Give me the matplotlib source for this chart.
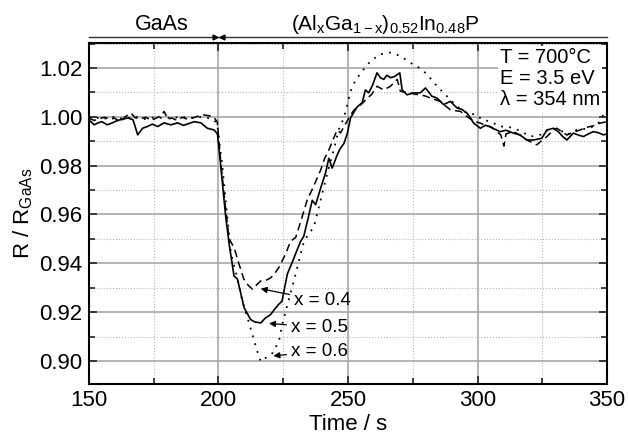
#!/usr/bin/env python3
import numpy as np
import matplotlib.pyplot as plt
from matplotlib.ticker import MultipleLocator
from matplotlib.transforms import blended_transform_factory

plt.rcParams.update({
    'font.family': ['Liberation Sans', 'DejaVu Sans'],
    'mathtext.fontset': 'custom',
    'mathtext.rm': 'Liberation Sans',
    'mathtext.it': 'Liberation Sans:italic',
    'font.size': 16,
})

# --- data (time in s, normalised reflectance) ---
t_x05 = [150, 152, 153.5, 155, 157, 159, 161, 163, 165, 167, 168.8, 170.7, 172.5, 174.5,
         176.5, 179, 181.6, 184.2, 186.5, 188.5, 190.6, 193.2, 195.7, 198.3, 199.6, 200.9,
         202.8, 204.1, 206, 207.3, 209.9, 212.4, 214, 216.3, 218, 220.1, 221.5, 223.3, 224.5,
         226.6, 228.3, 229.8, 231.7, 232.9, 234.5, 236.2, 237.5, 239.5, 241.3, 242.6, 243.9,
         245.8, 247, 248.4, 249.7, 251, 253.5, 255.5, 256.7, 258, 259.5, 261.2, 262.5, 263.8,
         265, 266.4, 268, 270, 270.9, 272.8, 275.4, 277.9, 279.9, 282.4, 284.3, 286.9, 289.5,
         292.1, 294, 295.9, 297, 298.5, 301.1, 303, 304.9, 306.5, 308.8, 311, 313.9, 316.5,
         319, 321.6, 324.8, 326.8, 329.3, 331.2, 332.8, 334.5, 337, 339, 340.9, 342.8, 344.7,
         346.6, 348.6, 350]
r_x05 = [0.9988, 0.9967, 0.9975, 0.9980, 0.9967, 0.9975, 0.9985, 0.9990, 0.9995, 0.9988,
         0.9926, 0.9953, 0.9960, 0.9970, 0.9960, 0.9975, 0.9967, 0.9975, 0.9965, 0.9972,
         0.9980, 0.9975, 0.9953, 0.9946, 0.9930, 0.9795, 0.9589, 0.9480, 0.9348, 0.9336,
         0.9218, 0.9170, 0.9160, 0.9156, 0.9175, 0.9190, 0.9210, 0.9233, 0.9245, 0.9357,
         0.9400, 0.9440, 0.9490, 0.9510, 0.9580, 0.9658, 0.9640, 0.9710, 0.9769, 0.9830,
         0.9790, 0.9843, 0.9870, 0.9890, 0.9930, 0.9996, 1.0040, 1.0058, 1.0110, 1.0098,
         1.0130, 1.0180, 1.0160, 1.0153, 1.0170, 1.0160, 1.0165, 1.0180, 1.0110, 1.0090,
         1.0098, 1.0098, 1.0118, 1.0084, 1.0077, 1.0050, 1.0063, 1.0036, 1.0030, 1.0015,
         1.0000, 0.9974, 0.9953, 0.9965, 0.9960, 0.9950, 0.9939, 0.9945, 0.9933, 0.9925,
         0.9905, 0.9905, 0.9912, 0.9946, 0.9953, 0.9939, 0.9920, 0.9905, 0.9933, 0.9925,
         0.9919, 0.9930, 0.9939, 0.9935, 0.9926, 0.9930]

t_x04 = [150, 152, 154, 156, 158, 160, 162, 164, 166.2, 168, 170, 172, 174, 176, 178, 179,
         180.5, 182, 184, 186, 188, 190, 192, 194, 196, 198, 199.5, 201, 202.8, 204.1, 206,
         207.9, 209.8, 211.5, 213.1, 215, 216.3, 218.2, 220.1, 221.8, 223.3, 225.9, 227.8,
         229.8, 232, 234.2, 236.5, 239.4, 241, 242.6, 244, 245.8, 247.1, 249, 251, 252.5,
         254.2, 256, 257.4, 259, 261.2, 263.8, 266.4, 269, 270.2, 272, 274.1, 276, 277.9,
         279.8, 281.8, 283.7, 285.6, 287.5, 289.5, 291.5, 293.4, 295.9, 297.5, 299.1, 301.1,
         303, 305, 307, 309, 310.2, 311, 313.9, 316.5, 319, 321, 322.9, 325, 326.8, 328.8,
         330.6, 332.5, 334.5, 336.5, 339.6, 341.5, 343.4, 345.5, 347.3, 350]
r_x04 = [0.9995, 0.9985, 0.9992, 0.9998, 0.9990, 0.9994, 0.9978, 1.0000, 1.0015, 0.9995,
         0.9992, 0.9998, 0.9985, 0.9995, 1.0005, 1.0022, 0.9990, 0.9995, 0.9985, 0.9998,
         0.9990, 0.9995, 1.0002, 1.0008, 1.0005, 1.0000, 0.9980, 0.9800, 0.9620, 0.9500,
         0.9465, 0.9398, 0.9335, 0.9310, 0.9294, 0.9315, 0.9328, 0.9330, 0.9340, 0.9360,
         0.9383, 0.9438, 0.9490, 0.9506, 0.9580, 0.9658, 0.9710, 0.9781, 0.9830, 0.9864,
         0.9900, 0.9946, 0.9934, 0.9970, 1.0008, 1.0030, 1.0042, 1.0060, 1.0077, 1.0090,
         1.0125, 1.0110, 1.0125, 1.0153, 1.0105, 1.0100, 1.0098, 1.0092, 1.0090, 1.0085,
         1.0077, 1.0070, 1.0063, 1.0045, 1.0029, 1.0025, 1.0022, 1.0001, 0.9990, 0.9980,
         0.9974, 0.9965, 0.9958, 0.9945, 0.9925, 0.9880, 0.9930, 0.9939, 0.9925, 0.9905,
         0.9895, 0.9885, 0.9905, 0.9919, 0.9940, 0.9953, 0.9940, 0.9925, 0.9935, 0.9946,
         0.9955, 0.9960, 0.9965, 0.9974, 0.9980]

t_x06 = [150, 152, 154, 156, 158, 160, 162, 164, 166, 168, 170, 172, 174, 176, 178, 180,
         182, 184, 186, 188, 190, 192, 194, 196, 198, 199.5, 201.5, 203.4, 204.7, 206, 207.3,
         209.2, 211.2, 213.1, 215, 216.3, 218.9, 220.8, 223.3, 224.6, 226.6, 229.1, 231.7,
         233, 234.8, 236.8, 239.4, 242, 244.5, 246.5, 248.4, 250, 251, 252.9, 255.5, 258.7,
         262.5, 266.4, 270.2, 274.1, 278.6, 281.1, 284.4, 288.2, 292.1, 295.9, 299.8, 301.7,
         304.9, 308.8, 311.5, 313.9, 317, 320.3, 324.2, 328.1, 331.9, 334.5, 338.3, 343.4,
         347.3, 349.2, 350]
r_x06 = [0.9995, 0.9990, 0.9998, 0.9992, 0.9998, 1.0000, 0.9992, 0.9998, 0.9995, 1.0000,
         0.9995, 0.9990, 0.9995, 1.0000, 0.9995, 0.9998, 0.9992, 0.9998, 0.9995, 1.0002,
         0.9995, 0.9998, 1.0000, 0.9995, 0.9990, 0.9970, 0.9795, 0.9590, 0.9450, 0.9390,
         0.9340, 0.9245, 0.9177, 0.9108, 0.9039, 0.8998, 0.9018, 0.9032, 0.9080, 0.9149,
         0.9230, 0.9328, 0.9438, 0.9490, 0.9520, 0.9548, 0.9658, 0.9768, 0.9864, 0.9950,
         0.9995, 1.0060, 1.0105, 1.0150, 1.0187, 1.0228, 1.0256, 1.0263, 1.0249, 1.0221,
         1.0194, 1.0166, 1.0125, 1.0084, 1.0042, 1.0015, 1.0008, 0.9988, 0.9981, 0.9960,
         0.9960, 0.9953, 0.9940, 0.9919, 0.9926, 0.9953, 0.9946, 0.9926, 0.9946, 0.9953,
         0.9980, 1.0022, 1.0010]

x_labels = ['x = 0.4', 'x = 0.5', 'x = 0.6']
label_xy = [(229.0, 0.9246), (227.8, 0.9138), (227.8, 0.9040)]
arrow_tip = [(216.3, 0.9296), (219.5, 0.9154), (221.2, 0.9021)]

fig = plt.figure(figsize=(6.28, 4.38), dpi=100)
ax = fig.add_axes([0.1417, 0.1233, 0.8249, 0.7785])

ax.plot(t_x05, r_x05, color='black', linestyle='-', linewidth=1.2, zorder=3)
ax.plot(t_x04, r_x04, color='black', linestyle=(0, (5, 3)), linewidth=1.1, zorder=3)
ax.plot(t_x06, r_x06, color='black', linestyle=(0, (1, 3.5)), linewidth=1.3, zorder=3)

for lab, (lx, ly), (tx, ty) in zip(x_labels, label_xy, arrow_tip):
    ax.annotate(lab, xy=(tx, ty), xytext=(lx, ly), fontsize=13.5, va='center', ha='left',
                arrowprops=dict(arrowstyle='-|>', color='black', lw=0.9,
                                mutation_scale=9, shrinkA=1, shrinkB=0))

ax.text(308.5, 1.0280, 'T = 700°C\nE = 3.5 eV\nλ = 354 nm', fontsize=14.5, va='top',
        ha='left', linespacing=1.13, zorder=5,
        bbox=dict(facecolor='white', edgecolor='none', pad=1.5))

ax.set_xlim(150, 350)
ax.set_ylim(0.8906, 1.0302)
ax.xaxis.set_major_locator(MultipleLocator(50))
ax.xaxis.set_minor_locator(MultipleLocator(25))
ax.yaxis.set_major_locator(MultipleLocator(0.02))
ax.yaxis.set_minor_locator(MultipleLocator(0.01))
ax.yaxis.set_major_formatter(plt.FormatStrFormatter('%.2f'))
ax.grid(True, which='major', color='#a8a8a8', linewidth=1.2, linestyle='-')
ax.grid(True, which='minor', color='#b8b8b8', linewidth=0.8, linestyle=':')
ax.set_axisbelow(True)
ax.tick_params(which='both', direction='in', top=True, right=True, width=1.2, color='#222222')
ax.tick_params(which='major', length=6, pad=4.5)
ax.tick_params(which='minor', length=4)
for sp in ax.spines.values():
    sp.set_linewidth(1.5)

ax.set_xlabel('Time / s', labelpad=2)
ax.set_ylabel(r'R / R$_{\mathrm{GaAs}}$', labelpad=3)

# layer band above the plot
trans = blended_transform_factory(ax.transData, fig.transFigure)
ax.plot([150, 350], [0.9155, 0.9155], color='#333333', lw=1.0, transform=trans, clip_on=False)
ax.plot([198.6], [0.9155], marker='>', color='black', ms=3.5, transform=trans, clip_on=False)
ax.plot([201.4], [0.9155], marker='<', color='black', ms=3.5, transform=trans, clip_on=False)
ax.text(178.2, 0.945, 'GaAs', fontsize=15.5, ha='center', va='center', transform=trans)
ax.text(264.3, 0.945, r'(Al$_{\mathrm{x}}$Ga$_{\mathrm{1-x}}$)$_{\mathrm{0.52}}$In$_{\mathrm{0.48}}$P',
        fontsize=15, ha='center', va='center', transform=trans)

fig.savefig('out.png', dpi=100)
